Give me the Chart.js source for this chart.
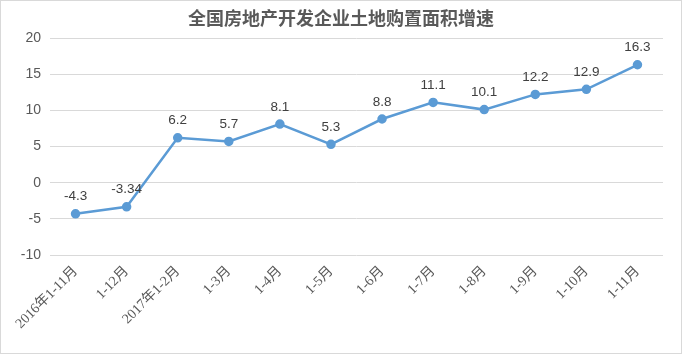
<!DOCTYPE html>
<html><head><meta charset="utf-8">
<script src="https://cdn.jsdelivr.net/npm/chart.js@4"></script>
<style>
html,body{margin:0;padding:0;background:#fff;}
#wrap{width:682px;height:354px;box-sizing:border-box;border:1px solid #d9d9d9;position:relative;}
canvas{display:block;}
</style></head><body>
<div id="wrap"><canvas id="c" width="680" height="352"></canvas></div>
<script>
const categories = ["2016年1-11月","1-12月","2017年1-2月","1-3月","1-4月","1-5月","1-6月","1-7月","1-8月","1-9月","1-10月","1-11月"];
const values = [-4.3, -3.34, 6.2, 5.7, 8.1, 5.3, 8.8, 11.1, 10.1, 12.2, 12.9, 16.3];
const yTicks = [-10, -5, 0, 5, 10, 15, 20];
const titleText = "全国房地产开发企业土地购置面积增速";

const labelPlugin = {
  id: 'pointLabels',
  afterDatasetsDraw(chart) {
    const ctx = chart.ctx;
    const meta = chart.getDatasetMeta(0);
    ctx.save();
    ctx.font = '13.5px "Liberation Sans", "Noto Sans CJK SC", sans-serif';
    ctx.fillStyle = '#404040';
    ctx.textAlign = 'center';
    ctx.textBaseline = 'alphabetic';
    meta.data.forEach((pt, i) => {
      ctx.fillText(String(values[i]), pt.x, pt.y - 13.5);
    });
    // title
    ctx.font = 'bold 18px "Noto Sans CJK SC", sans-serif';
    ctx.fillStyle = '#595959';
    ctx.textAlign = 'center';
    ctx.textBaseline = 'middle';
    ctx.fillText(titleText, chart.width / 2, 17);
    ctx.restore();
  }
};

new Chart(document.getElementById('c'), {
  type: 'line',
  data: {
    labels: categories,
    datasets: [{
      data: values,
      borderColor: '#5B9BD5',
      backgroundColor: '#5B9BD5',
      borderWidth: 2.5,
      pointRadius: 3.5,
      pointBackgroundColor: '#5B9BD5',
      pointBorderColor: '#5B9BD5',
      tension: 0
    }]
  },
  options: {
    responsive: false,
    animation: false,
    layout: { padding: { left: 0, right: 18, top: 37, bottom: 0 } },
    plugins: {
      legend: { display: false },
      tooltip: { enabled: false },
      title: { display: false }
    },
    scales: {
      x: {
        offset: true,
        afterFit(scale) { scale.height = 98; },
        grid: { display: false, drawTicks: false, offset: true },
        border: { display: false },
        ticks: {
          color: '#595959',
          font: { size: 14, family: '"Liberation Serif", "Noto Sans CJK SC", serif' },
          minRotation: 45, maxRotation: 45,
          autoSkip: false,
          padding: 8
        }
      },
      y: {
        min: -10, max: 20,
        afterBuildTicks(scale) { scale.ticks = yTicks.map(v => ({ value: v })); },
        afterFit(scale) { scale.width = 49; },
        grid: { color: '#d9d9d9', lineWidth: 1, drawTicks: false },
        border: { display: false },
        ticks: {
          color: '#595959',
          font: { size: 14, family: '"Liberation Sans", sans-serif' },
          padding: 9
        }
      }
    }
  },
  plugins: [labelPlugin]
});
</script>
</body></html>
